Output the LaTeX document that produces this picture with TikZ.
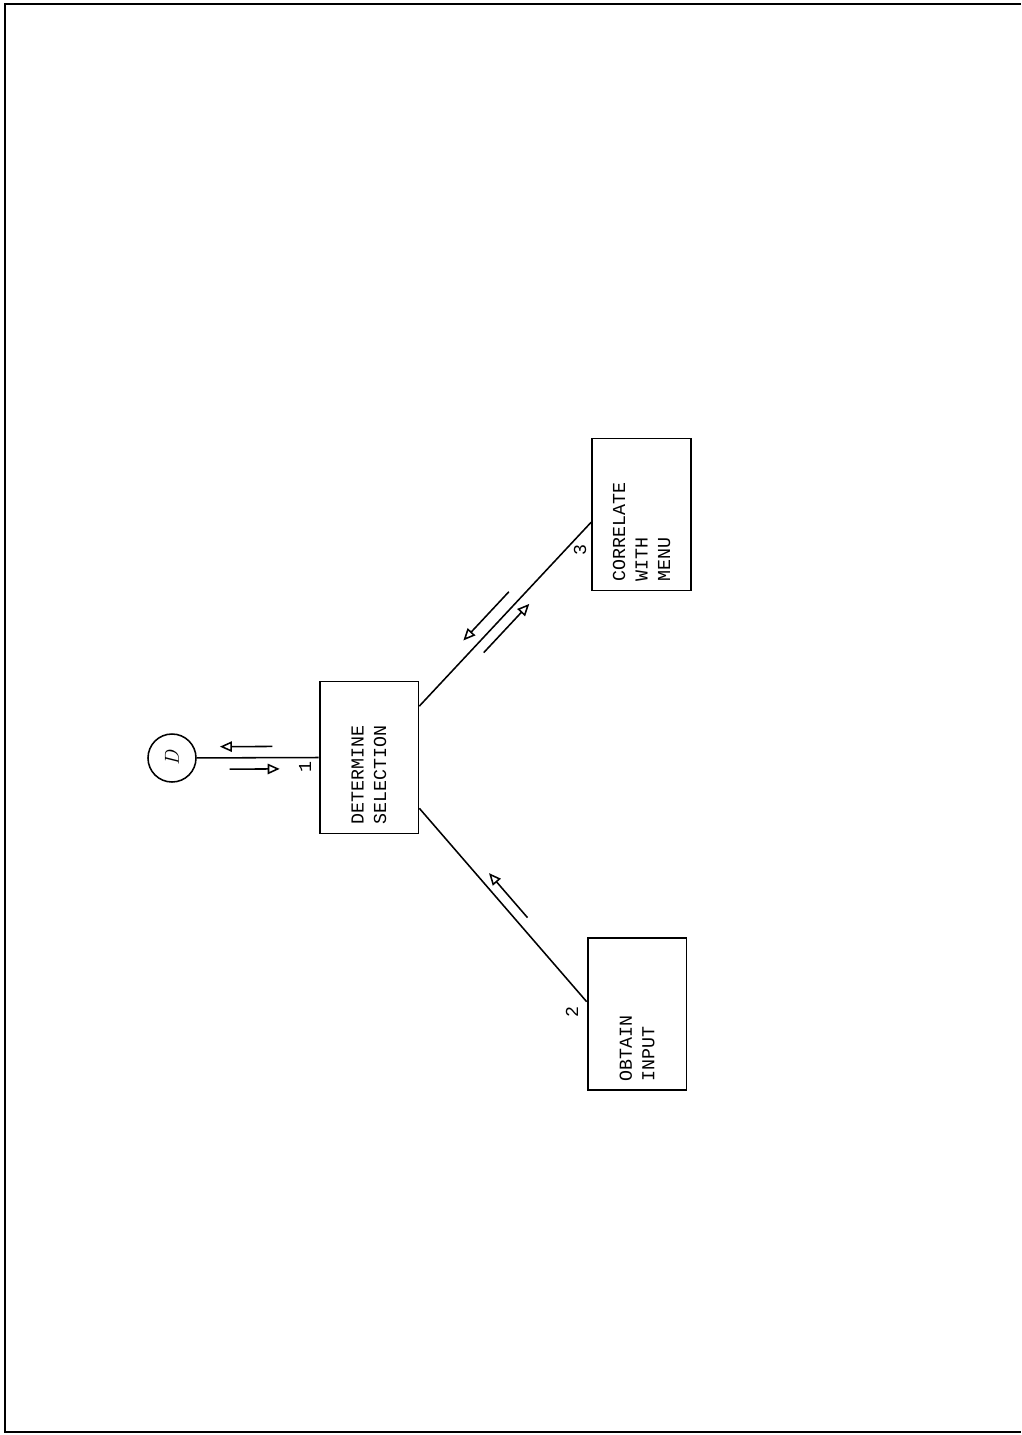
\documentclass[tikz,border=0pt]{standalone}
\usepackage{fontspec}
\setmonofont{Liberation Mono}
\usepackage{tikz}
\usetikzlibrary{arrows.meta,positioning,calc}
\tikzset{
  proc box/.style={
    draw,line width=1.3pt,rotate=90,
    minimum width=3.8cm,minimum height=2.47cm,
    text width=3.35cm,align=left,inner sep=0pt,
    font=\ttfamily\fontsize{13}{16}\selectfont
  },
  ext point/.style={
    circle,draw,line width=1.1pt,minimum size=1.2cm,inner sep=0pt,
    rotate=90,font=\itshape\Large
  },
  flow line/.style={
    line width=1.1pt
  },
  flow arrow/.style={
    line width=1.1pt,
    -{Triangle[open,length=3mm,width=2.6mm]}
  },
  proc num/.style={
    rotate=90,inner sep=1pt,font=\ttfamily\fontsize{13}{15}\selectfont
  }
}

\begin{document}
\begin{tikzpicture}[x=0.025cm,y=-0.025cm]
  \useasboundingbox (0,0) rectangle (1021,1435);
  \draw[line width=1.4pt] (1021,4) -- (5,4) -- (5,1432) -- (1021,1432);

  \node[ext point] (D) at (172,758) {D};
  \node[proc box] (b1) at (369,757.5) {DETERMINE\\SELECTION};
  \node[proc box] (b2) at (637,1014) {OBTAIN\\INPUT};
  \node[proc box] (b3) at (641.5,514.5) {CORRELATE\\WITH\\MENU};

  \coordinate (Dr) at (D.south);
  \coordinate (b1l) at (b1.north);
  \coordinate (b1c) at ($(b1.south east)!0.166!(b1.south west)$);
  \coordinate (b1d) at ($(b1.south east)!0.83!(b1.south west)$);
  \coordinate (b3c) at ($(b3.north east)!0.55!(b3.north west)$);
  \coordinate (b2c) at ($(b2.north east)!0.42!(b2.north west)$);

  \draw[flow line] (D) -- (b1l);
  \draw[flow line] (b1c) -- (b3c);
  \draw[flow line] (b1d) -- (b2c);

  % data flows
  \draw[flow arrow] ($(Dr)!0.62!(b1l)!8pt!90:(b1l)$) -- ($(Dr)!0.19!(b1l)!8pt!90:(b1l)$);
  \draw[flow arrow] ($(Dr)!0.27!(b1l)!8pt!-90:(b1l)$) -- ($(Dr)!0.68!(b1l)!8pt!-90:(b1l)$);
  \draw[flow arrow] ($(b1c)!0.575!(b3c)!9pt!90:(b3c)$) -- ($(b1c)!0.31!(b3c)!9pt!90:(b3c)$);
  \draw[flow arrow] ($(b1c)!0.33!(b3c)!7.5pt!-90:(b3c)$) -- ($(b1c)!0.595!(b3c)!7.5pt!-90:(b3c)$);
  \draw[flow arrow] ($(b1d)!0.60!(b2c)!7.3pt!90:(b2c)$) -- ($(b1d)!0.37!(b2c)!7.3pt!90:(b2c)$);

  \foreach \k/\x/\y in {1/305/767,2/572/1012,3/580/550}
    \node[proc num] (n\k) at (\x,\y) {\k};
\end{tikzpicture}
\end{document}
